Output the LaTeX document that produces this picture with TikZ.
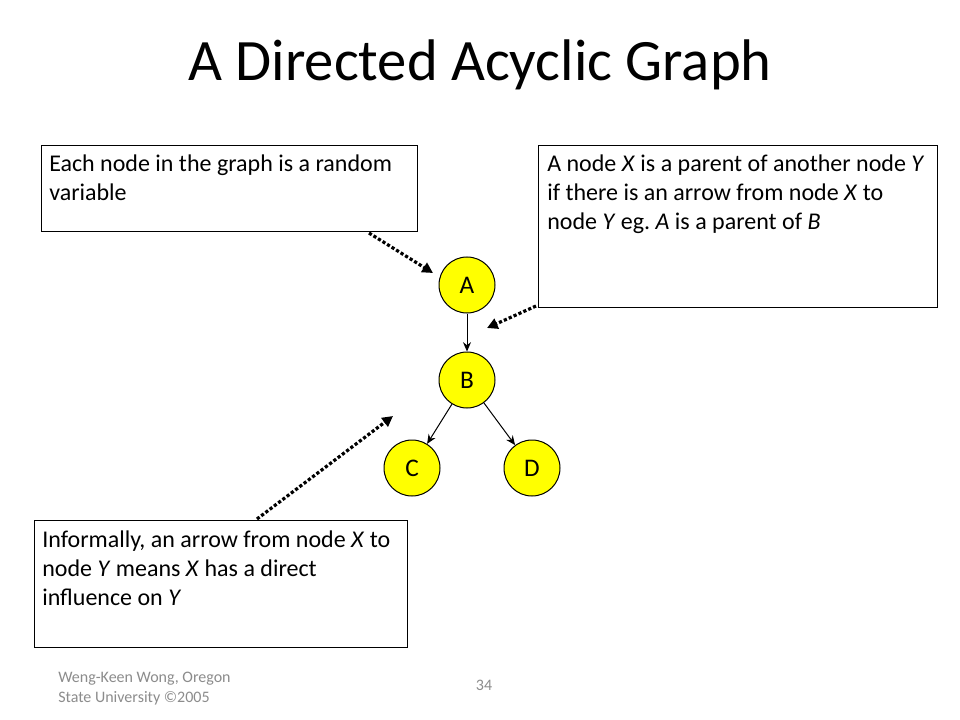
\documentclass[tikz,border=0pt]{standalone}
\usepackage{fontspec}
\setmainfont{Carlito}
\usetikzlibrary{arrows.meta}
\definecolor{footgray}{HTML}{8C8C8C}
\definecolor{nodeyellow}{HTML}{FFFF00}
\tikzset{
  vnode/.style={circle, draw=black, line width=0.75pt, fill=nodeyellow, minimum size=42pt, inner sep=0pt, font=\fontsize{19}{22}\selectfont},
  edge/.style={draw=black, line width=0.75pt, -{Stealth[length=7pt,width=6pt]}},
  note/.style={draw=black, line width=0.9pt, fill=white, inner sep=0pt, anchor=north west},
  notetext/.style={anchor=base west, inner sep=0pt, font=\fontsize{18}{22}\selectfont},
  pointer/.style={line width=2.4pt, dash pattern=on 2.4pt off 1.6pt, -{Triangle[length=8pt,width=8pt]}},
  foot/.style={inner sep=0pt, text=footgray, font=\fontsize{12}{14}\selectfont}
}
\begin{document}
\frenchspacing
\begin{tikzpicture}[x=0.75pt, y=-0.75pt]
\useasboundingbox[fill=white] (0,0) rectangle (960,720);
% title
\node[anchor=base, inner sep=0pt, font=\fontsize{44}{50}\selectfont] (title) at (480,81) {A Directed Acyclic Graph};
% boxes
\node[note, minimum width=282pt, minimum height=64.5pt] (box1) at (41,145) {};
\node[note, minimum width=299.25pt, minimum height=121.5pt] (box2) at (538,145) {};
\node[note, minimum width=279.75pt, minimum height=95.25pt] (box3) at (34,520) {};
% box texts
\node[notetext] (t11) at (49,172) {Each node in the graph is a random};
\node[notetext] (t12) at (49,201) {variable};
\node[notetext] (t21) at (547,172) {A node \textit{X} is a parent of another node \textit{Y}};
\node[notetext] (t22) at (547,201) {if there is an arrow from node \textit{X} to};
\node[notetext] (t23) at (547,230) {node \textit{Y} eg. \textit{A} is a parent of \textit{B}};
\node[notetext] (t31) at (42,547) {Informally, an arrow from node \textit{X} to};
\node[notetext] (t32) at (42,576) {node \textit{Y} means \textit{X} has a direct};
\node[notetext] (t33) at (42,605) {influence on \textit{Y}};
% graph nodes
\node[vnode] (A) at (467,285) {A};
\node[vnode] (B) at (467,380) {B};
\node[vnode] (C) at (412,468) {C};
\node[vnode] (D) at (532,468) {D};
\draw[edge] (A) -- (B);
\draw[edge] (B) -- (C);
\draw[edge] (B) -- (D);
% dotted pointers
\coordinate (p1s) at (369,233);
\coordinate (p1e) at (433,273);
\coordinate (p2s) at (536,306);
\coordinate (p2e) at (487,328);
\coordinate (p3s) at (257,519);
\coordinate (p3e) at (393,416);
\draw[pointer] (p1s) -- (p1e);
\draw[pointer] (p2s) -- (p2e);
\draw[pointer] (p3s) -- (p3e);
% footer
\node[foot, anchor=base west] (f1) at (58,682) {Weng-Keen Wong, Oregon};
\node[foot, anchor=base west] (f2) at (58,702) {State University \textcopyright 2005};
\node[foot, anchor=base] (page) at (484,690) {34};
\end{tikzpicture}
\end{document}
